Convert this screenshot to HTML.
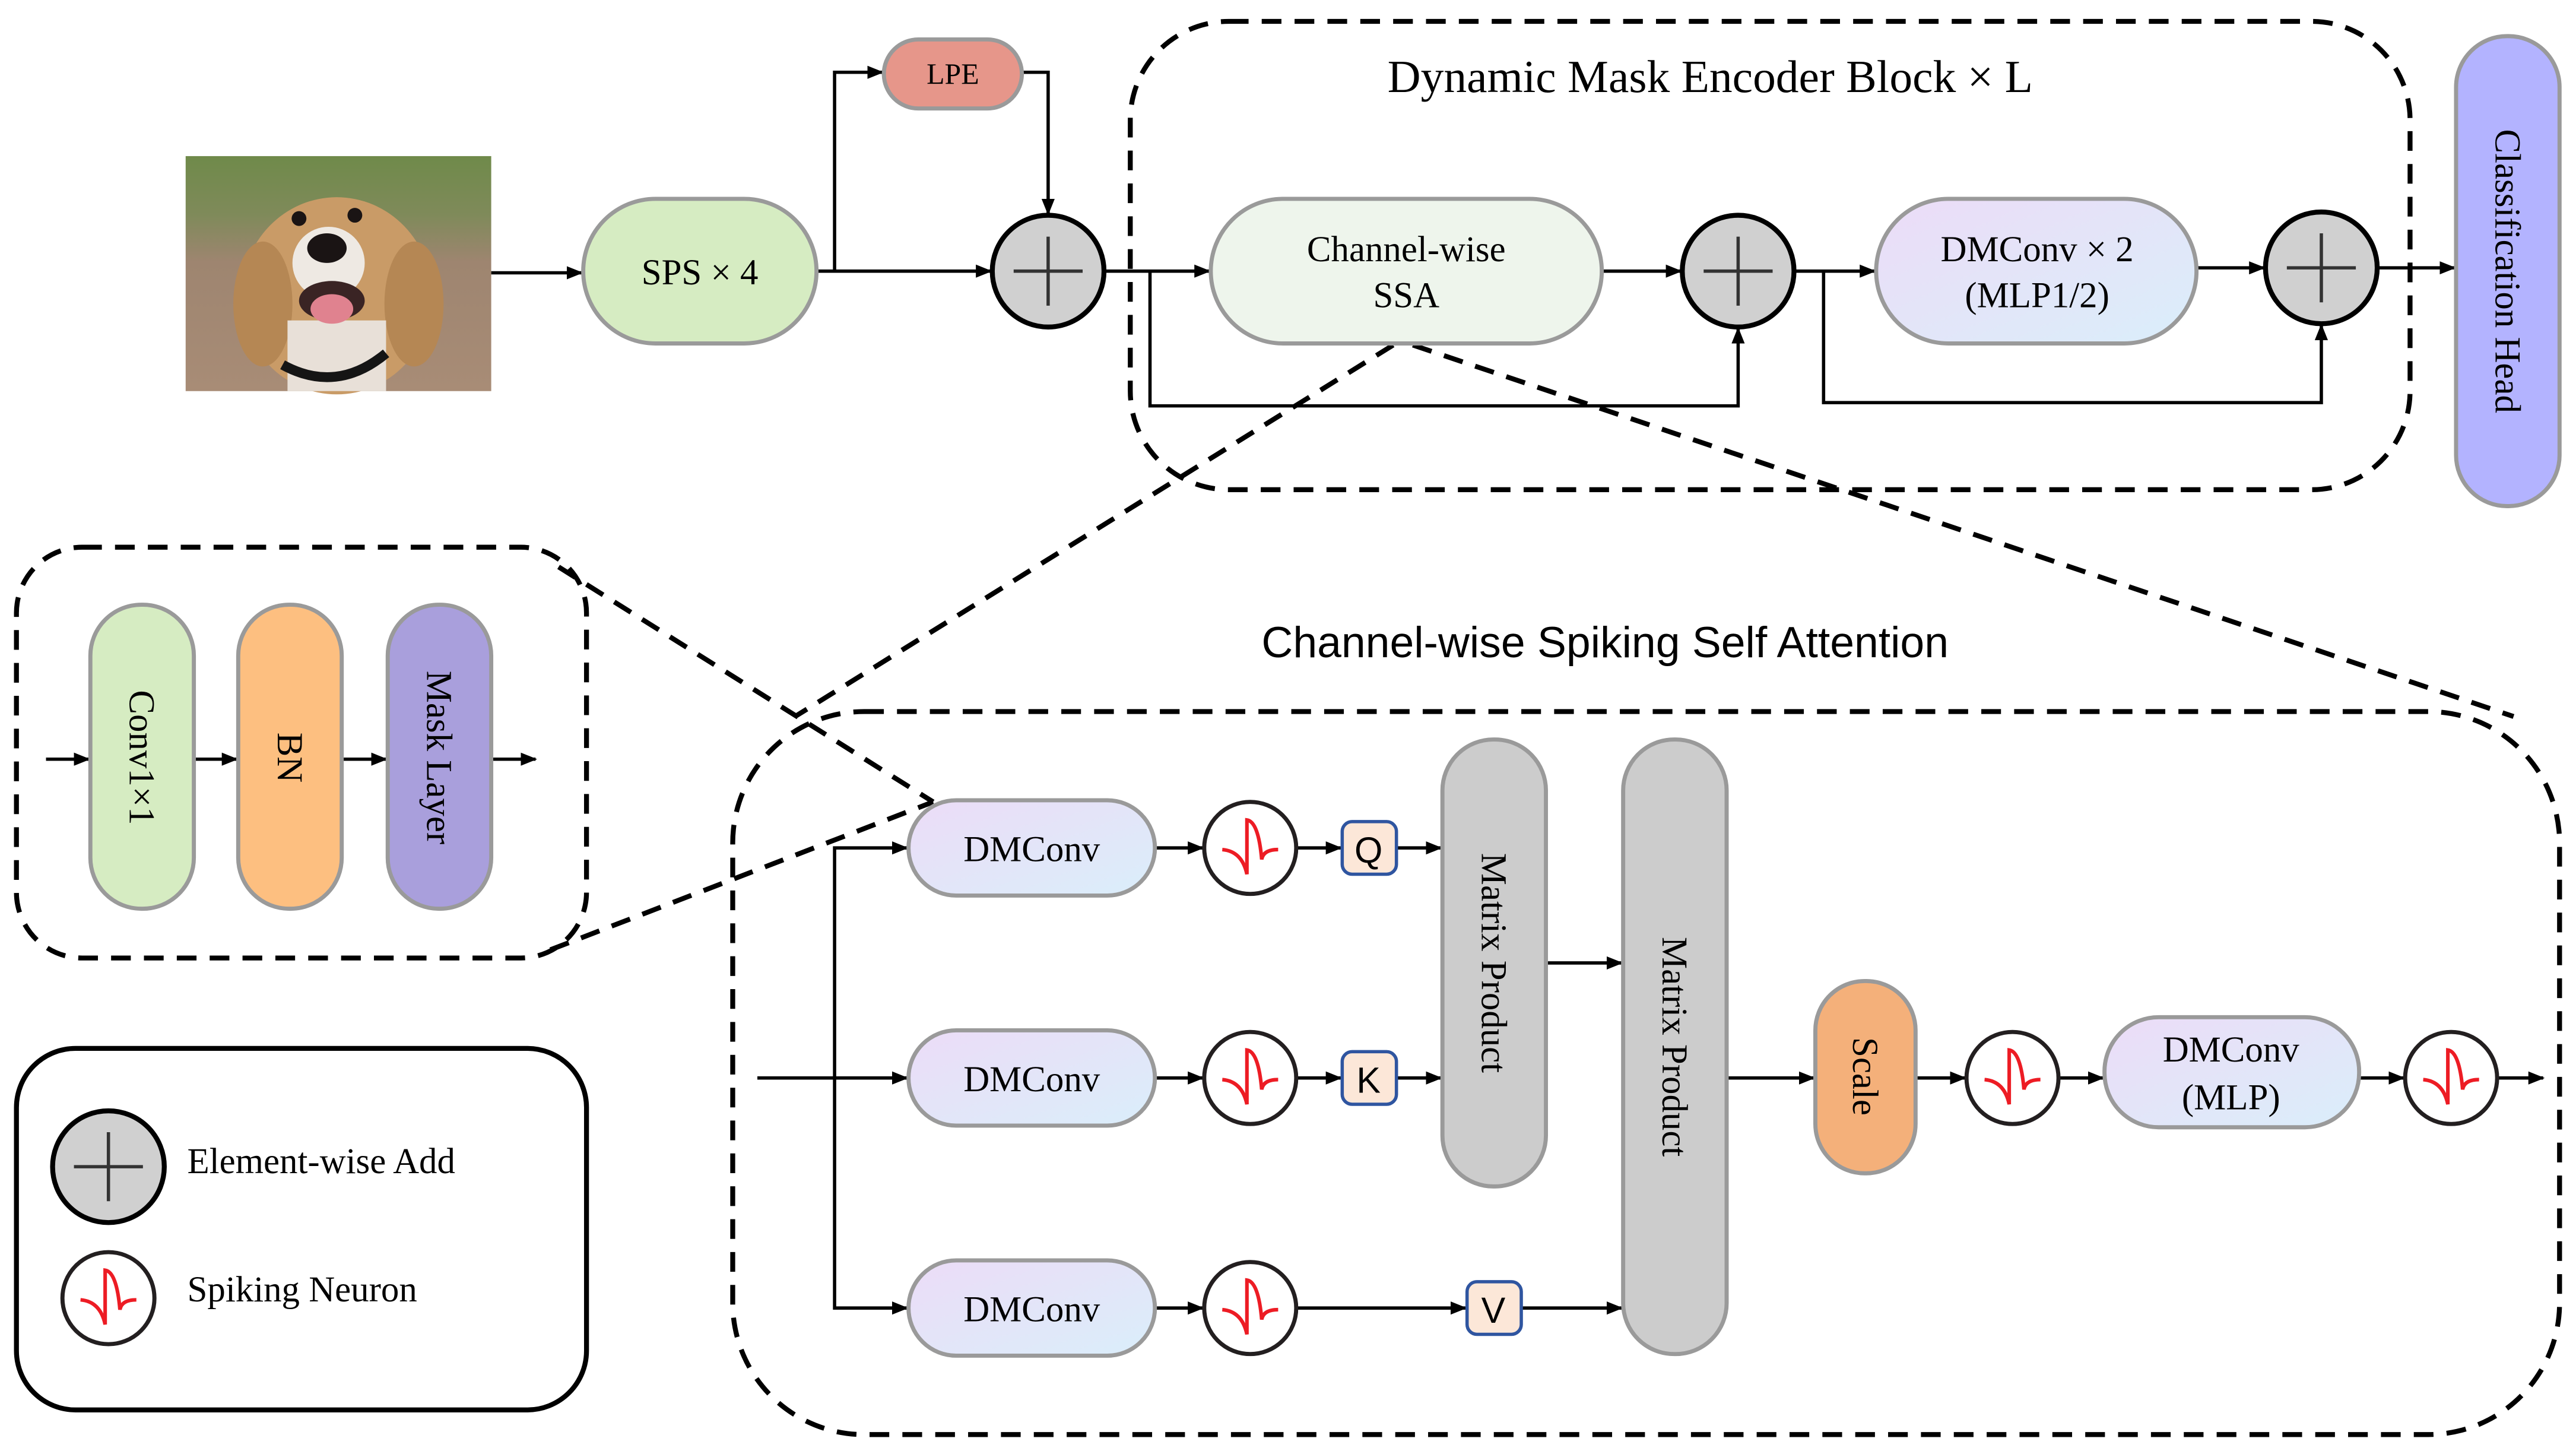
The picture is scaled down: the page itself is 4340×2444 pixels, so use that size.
<!DOCTYPE html>
<html><head><meta charset="utf-8"><style>html,body{margin:0;padding:0;background:#fff}svg{display:block}</style></head>
<body>
<svg width="4340" height="2444" viewBox="0 0 1568 883" xmlns="http://www.w3.org/2000/svg" font-family="'Liberation Serif', serif">
<defs>
<marker id="a" markerWidth="10" markerHeight="8" refX="9" refY="4" orient="auto" markerUnits="userSpaceOnUse"><path d="M0,0 L10,4 L0,8 z" fill="#000"/></marker>
<linearGradient id="dm" x1="0" y1="0" x2="1" y2="1"><stop offset="0" stop-color="#ecdcf7"/><stop offset="1" stop-color="#daeefa"/></linearGradient>
<linearGradient id="bg" x1="0" y1="0" x2="0" y2="1"><stop offset="0" stop-color="#6f8a4a"/><stop offset="0.25" stop-color="#7f8a5a"/><stop offset="0.45" stop-color="#9e8570"/><stop offset="1" stop-color="#a88c76"/></linearGradient>
<g id="sp"><circle r="28" fill="#fff" stroke="#231f20" stroke-width="2.5"/><path d="M-17 1 Q-5 2 -2 16 L-2 -17 Q5 -16 7 7 Q8 1 17 1" fill="none" stroke="#ed1c24" stroke-width="2.2"/></g>
<g id="ad"><circle r="34" fill="#d0d0d0" stroke="#000" stroke-width="3"/><path d="M-21 0 H21 M0 -21 V21" stroke="#333" stroke-width="2"/></g>
</defs>
<g stroke="#000" stroke-width="2" fill="none" marker-end="url(#a)">
<path d="M299 166 H354"/><path d="M497 165 H603"/><path d="M508 165 V44 H537"/><path d="M622 44 H638 V130"/>
<path d="M673 165 H736"/><path d="M700 165 V247 H1058 V200"/><path d="M975 165 H1023"/><path d="M1093 165 H1141"/>
<path d="M1110 165 V245 H1413 V198"/><path d="M1337 163 H1378"/><path d="M1448 163 H1494"/>
<path d="M28 462 H54"/><path d="M118 462 H144"/><path d="M208 462 H235"/><path d="M299 462 H326"/>
<path d="M461 656 H552"/><path d="M508 656 V516 H552"/><path d="M508 656 V796 H552"/>
<path d="M703 516 H732"/><path d="M703 656 H732"/><path d="M703 796 H732"/>
<path d="M789 516 H816"/><path d="M789 656 H816"/><path d="M789 796 H892"/>
<path d="M850 516 H877"/><path d="M850 656 H877"/><path d="M926 796 H987"/><path d="M941 586 H987"/>
<path d="M1051 656 H1104"/><path d="M1166 656 H1196"/><path d="M1253 656 H1280"/><path d="M1436 656 H1463"/><path d="M1520 656 H1548"/>
</g>
<g stroke="#000" stroke-width="3" fill="none" stroke-dasharray="12,8">
<rect x="688" y="13" width="779" height="285" rx="60"/>
<rect x="446" y="433" width="1112" height="440" rx="80"/>
<rect x="10" y="333" width="347" height="250" rx="40"/>
<path d="M848 210 L484 436"/><path d="M860 210 L1530 436"/>
<path d="M340 345 L568 488"/><path d="M335 578 L568 488"/>
</g>
<rect x="10" y="638" width="347" height="220" rx="36" fill="none" stroke="#000" stroke-width="3"/>
<!-- dog -->
<rect x="113" y="95" width="186" height="143" fill="url(#bg)"/>
<ellipse cx="205" cy="180" rx="58" ry="60" fill="#c99b67"/>
<ellipse cx="160" cy="185" rx="18" ry="38" fill="#b58754"/><ellipse cx="252" cy="185" rx="18" ry="38" fill="#b58754"/>
<rect x="175" y="195" width="60" height="43" fill="#e8e0d8"/>
<ellipse cx="200" cy="160" rx="22" ry="22" fill="#eee9e3"/>
<ellipse cx="199" cy="151" rx="12" ry="9" fill="#1a1414"/>
<circle cx="182" cy="133" r="4.5" fill="#1a1414"/><circle cx="216" cy="131" r="4.5" fill="#1a1414"/>
<ellipse cx="202" cy="183" rx="20" ry="12" fill="#3a2424"/><ellipse cx="202" cy="188" rx="13" ry="9" fill="#e0828f"/>
<path d="M172 222 Q205 240 235 215" stroke="#151515" stroke-width="6" fill="none"/>
<!-- nodes -->
<g stroke="#9a9a9a" stroke-width="2.5">
<rect x="355" y="121" width="142" height="88" rx="44" fill="#d6ecc2"/>
<rect x="538" y="24" width="84" height="42" rx="21" fill="#e6968a"/>
<rect x="737" y="121" width="238" height="88" rx="44" fill="#eef5ec"/>
<rect x="1142" y="121" width="195" height="88" rx="44" fill="url(#dm)"/>
<rect x="1495" y="22" width="63" height="286" rx="31" fill="#b3b3ff"/>
<rect x="55" y="368" width="63" height="185" rx="31" fill="#d6ecc2"/>
<rect x="145" y="368" width="63" height="185" rx="31" fill="#fdbf80"/>
<rect x="236" y="368" width="63" height="185" rx="31" fill="#a99fdc"/>
<rect x="553" y="487" width="150" height="58" rx="29" fill="url(#dm)"/>
<rect x="553" y="627" width="150" height="58" rx="29" fill="url(#dm)"/>
<rect x="553" y="767" width="150" height="58" rx="29" fill="url(#dm)"/>
<rect x="878" y="450" width="63" height="272" rx="31" fill="#cccccc"/>
<rect x="988" y="450" width="63" height="374" rx="31" fill="#cccccc"/>
<rect x="1105" y="597" width="61" height="117" rx="30" fill="#f4b07a"/>
<rect x="1281" y="619" width="155" height="67" rx="33" fill="url(#dm)"/>
</g>
<g stroke="#2f55a0" stroke-width="2" fill="#fce7d8">
<rect x="817" y="500" width="33" height="32" rx="6"/><rect x="817" y="640" width="33" height="32" rx="6"/><rect x="893" y="780" width="33" height="32" rx="6"/>
</g>
<use href="#ad" x="638" y="165"/><use href="#ad" x="1058" y="165"/><use href="#ad" x="1413" y="163"/><use href="#ad" x="66" y="710"/>
<use href="#sp" x="761" y="516"/><use href="#sp" x="761" y="656"/><use href="#sp" x="761" y="796"/><use href="#sp" x="1225" y="656"/><use href="#sp" x="1492" y="656"/><use href="#sp" x="66" y="790"/>
<g font-size="22" fill="#000" text-anchor="middle">
<text x="426" y="173">SPS × 4</text>
<text x="580" y="51" font-size="18">LPE</text>
<text x="856" y="159">Channel-wise</text><text x="856" y="187">SSA</text>
<text x="1240" y="159">DMConv × 2</text><text x="1240" y="187">(MLP1/2)</text>
<text x="1041" y="56" font-size="28">Dynamic Mask Encoder Block × L</text>
<text x="628" y="524">DMConv</text><text x="628" y="664">DMConv</text><text x="628" y="804">DMConv</text>
<text x="1358" y="646">DMConv</text><text x="1358" y="675">(MLP)</text>
<text transform="translate(1519,165) rotate(90)">Classification Head</text>
<text transform="translate(79,461) rotate(90)">Conv1×1</text>
<text transform="translate(169,461) rotate(90)">BN</text>
<text transform="translate(260,461) rotate(90)">Mask Layer</text>
<text transform="translate(902,586) rotate(90)">Matrix Product</text>
<text transform="translate(1012,637) rotate(90)">Matrix Product</text>
<text transform="translate(1128,655) rotate(90)">Scale</text>
</g>
<g font-family="'Liberation Sans', sans-serif" fill="#000" text-anchor="middle">
<text x="977" y="400" font-size="26.5">Channel-wise Spiking Self Attention</text>
<text x="833" y="525" font-size="22">Q</text><text x="833" y="665" font-size="22">K</text><text x="909" y="805" font-size="22">V</text>
</g>
<g font-size="22" fill="#000"><text x="114" y="714">Element-wise Add</text><text x="114" y="792">Spiking Neuron</text></g>
</svg>
</body></html>
